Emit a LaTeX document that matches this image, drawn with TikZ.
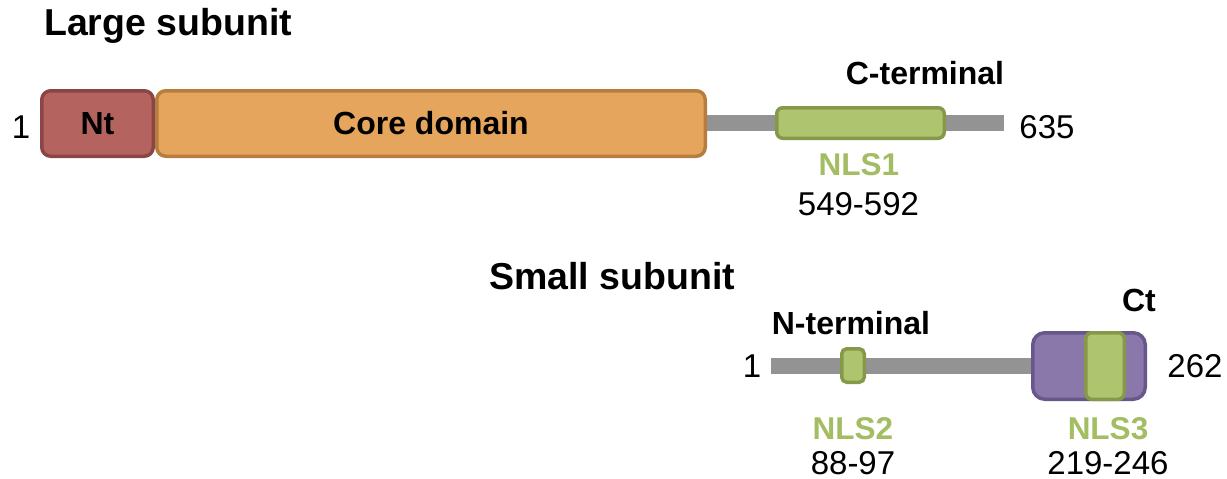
\documentclass[tikz,border=0pt]{standalone}
\usepackage{fontspec}
\setmainfont{Liberation Sans}
\definecolor{ntfill}{HTML}{B5635F}
\definecolor{ntdraw}{HTML}{8A4646}
\definecolor{corefill}{HTML}{E5A55C}
\definecolor{coredraw}{HTML}{B67D3F}
\definecolor{nlsfill}{HTML}{AFC46E}
\definecolor{nlsdraw}{HTML}{86994A}
\definecolor{nlstext}{HTML}{A3BD63}
\definecolor{ctfill}{HTML}{8B78AB}
\definecolor{ctdraw}{HTML}{67578A}
\definecolor{backbone}{HTML}{939393}
\begin{document}
\begin{tikzpicture}[x=1pt,y=-1pt,
  dombox/.style={rectangle, rounded corners=9pt, line width=3.5pt, inner sep=0pt},
  bar/.style={rectangle, fill=backbone, inner sep=0pt, minimum height=16pt},
  title/.style={font=\bfseries\fontsize{37.5}{40}\selectfont, inner sep=0pt},
  lab/.style={font=\bfseries\fontsize{32}{35}\selectfont, inner sep=0pt},
  nls/.style={font=\bfseries\fontsize{31.5}{34}\selectfont, text=nlstext, inner sep=0pt},
  num/.style={font=\fontsize{33}{36}\selectfont, inner sep=0pt}]
\useasboundingbox[fill=white] (0,0) rectangle (1227,479);
% Large subunit
\node[title, anchor=west] (tl) at (44,26) {Large subunit};
\node[bar, minimum width=304pt] (bb1) at (852,123) {};
\node[dombox, fill=ntfill, draw=ntdraw, minimum width=111.5pt, minimum height=65.5pt] (nt) at (97.5,123.5) {};
\node[dombox, fill=corefill, draw=coredraw, minimum width=548.5pt, minimum height=65.5pt] (core) at (431,123.5) {};
\node[lab] at (nt.center) {Nt};
\node[lab] at (core.center) {Core domain};
\node[dombox, rounded corners=6pt, fill=nlsfill, draw=nlsdraw, minimum width=167.5pt, minimum height=30.5pt] (nls1) at (860.5,123) {};
\node[lab] (cterm) at (925,73) {C-terminal};
\node[num] (n1a) at (21,127) {1};
\node[num] (n635) at (1047,127) {635};
\node[nls] (nls1l) at (859,165) {NLS1};
\node[num] (r1) at (858.5,204) {549-592};
% Small subunit
\node[title, anchor=west] (ts) at (489,276) {Small subunit};
\node[bar, minimum width=269pt] (bb2) at (905.5,366) {};
\node[dombox, rounded corners=5pt, fill=nlsfill, draw=nlsdraw, minimum width=22.5pt, minimum height=33.5pt] (nls2) at (853,365.5) {};
\node[dombox, rounded corners=12pt, fill=ctfill, draw=ctdraw, minimum width=112.5pt, minimum height=66.5pt] (ct) at (1089,366) {};
\node[dombox, rounded corners=6pt, fill=nlsfill, draw=nlsdraw, minimum width=38.5pt, minimum height=66.5pt] (nls3) at (1105,366) {};
\node[lab] (ctl) at (1139,300) {Ct};
\node[lab] (nterm) at (851,323) {N-terminal};
\node[num] (n1b) at (752,366) {1};
\node[num] (n262) at (1195,366) {262};
\node[nls] (nls2l) at (853,429) {NLS2};
\node[num] (r2) at (853,463) {88-97};
\node[nls] (nls3l) at (1108,429) {NLS3};
\node[num] (r3) at (1108,463) {219-246};
\end{tikzpicture}
\end{document}
